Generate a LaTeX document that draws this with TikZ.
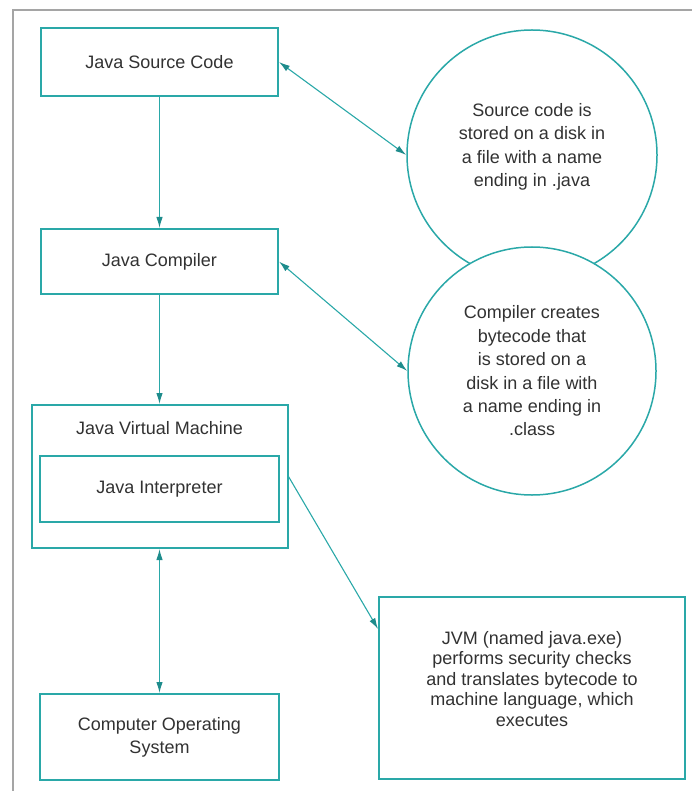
\documentclass[tikz,border=0pt]{standalone}
\usepackage{fontspec}
\setmainfont{Liberation Sans}
\usetikzlibrary{arrows.meta,calc}
\definecolor{tealline}{RGB}{42,168,168}
\definecolor{tealtip}{RGB}{30,140,140}
\definecolor{textgray}{RGB}{50,50,50}
\definecolor{framegray}{RGB}{165,165,165}
\tikzset{
  box/.style={draw=tealline, line width=2pt, rectangle, fill=white,
    text=textgray, align=center, font=\fontsize{18}{23}\selectfont, inner sep=0pt},
  bubble/.style={draw=tealline, line width=1.5pt, circle, fill=white,
    minimum size=250pt, inner sep=0pt},
  caption/.style={text=textgray, align=center, font=\fontsize{18}{23.4}\selectfont},
  link/.style={draw=tealline, line width=1.1pt},
  tip/.style={-{Latex[length=11pt,width=6.5pt,color=tealtip]}},
  tips/.style={{Latex[length=11pt,width=6.5pt,color=tealtip]}-{Latex[length=11pt,width=6.5pt,color=tealtip]}}
}
\begin{document}
\begin{tikzpicture}[x=1pt,y=-1pt]
  \useasboundingbox (0,0) rectangle (692,791);
  % page frame
  \draw[framegray, line width=2.5pt] (13,791) -- (13,10) -- (692,10);

  % left column
  \node[box, minimum width=237pt, minimum height=68pt] (src) at (159.5,62) {Java Source Code};
  \node[box, minimum width=237pt, minimum height=65pt] (comp) at (159.5,261.5) {Java Compiler};
  \node[box, minimum width=256pt, minimum height=143pt] (jvm) at (159.5,476.5) {};
  \node[caption] (jvmlabel) at (159.5,428) {Java Virtual Machine};
  \node[box, minimum width=239pt, minimum height=66pt] (interp) at (159.5,489) {Java Interpreter};
  \node[box, minimum width=239pt, minimum height=86pt] (os) at (159.5,737) {Computer Operating\\System};

  % right column: two overlapping bubbles, the lower one drawn on top
  \node[bubble] (c1) at (532,155) {};
  \node[caption] (c1text) at (532,147) {Source code is\\stored on a disk in\\a file with a name\\ending in .java};
  \node[bubble, minimum size=248pt] (c2) at (532,371) {};
  \node[caption] (c2text) at (532,371) {Compiler creates\\bytecode that\\is stored on a\\disk in a file with\\a name ending in\\.class};
  \node[box, minimum width=306pt, minimum height=182pt] (note) at (532,688) {};
  \node[caption, font=\fontsize{18}{20.5}\selectfont] (notetext) at (532,679)
        {JVM (named java.exe)\\performs security checks\\and translates bytecode to\\machine language, which\\executes};

  % connectors
  \draw[link, tip] (src) -- (comp);
  \draw[link, tip] (comp) -- (jvm);
  \draw[link, tips] (jvm) -- (os);
  \draw[link, tips] (src.east) -- (c1.west);
  \draw[link, tips] (comp.east) -- (c2.west);
  \coordinate (noteentry) at ([yshift=-33pt]note.north west);
  \draw[link, tip] (jvm.east) -- (noteentry);
\end{tikzpicture}
\end{document}
